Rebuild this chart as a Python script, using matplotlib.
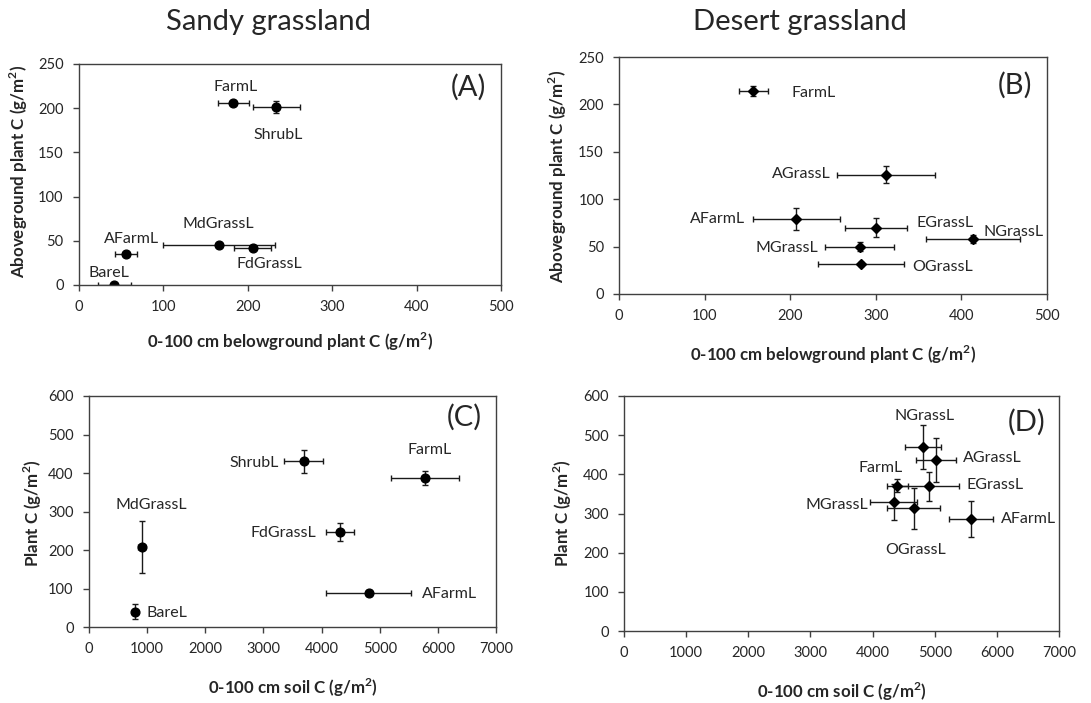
import matplotlib
matplotlib.use("Agg")
import matplotlib.pyplot as plt

plt.rcParams["font.family"] = ["Lato", "DejaVu Sans"]

# (A) Sandy grassland: belowground vs aboveground plant C
a_names = ["FarmL", "ShrubL", "AFarmL", "MdGrassL", "FdGrassL", "BareL"]
a_x = [183, 234, 56, 166, 206, 42]
a_xerr = [18, 28, 13, 66, 22, 20]
a_y = [206, 201, 35, 45, 42, 0]
a_yerr = [2, 7, 2, 2, 2, 1]
a_lab = [(185, 224, "center"), (236, 170, "center"), (62, 52, "center"),
         (165, 69, "center"), (225, 24, "center"), (35, 14, "center")]

# (B) Desert grassland: belowground vs aboveground plant C
b_names = ["FarmL", "AGrassL", "AFarmL", "EGrassL", "NGrassL", "MGrassL", "OGrassL"]
b_x = [157, 312, 207, 300, 414, 281, 283]
b_xerr = [17, 57, 51, 36, 55, 40, 50]
b_y = [214, 126, 79, 70, 58, 50, 32]
b_yerr = [5, 9, 12, 10, 4, 5, 2]
b_lab = [(201, 212, "left"), (247, 127, "right"), (147, 79, "right"),
         (347, 75, "left"), (426, 65, "left"), (233, 48, "right"), (342, 29, "left")]

# (C) Sandy grassland: soil C vs plant C
c_names = ["ShrubL", "FarmL", "FdGrassL", "AFarmL", "MdGrassL", "BareL"]
c_x = [3690, 5780, 4320, 4810, 910, 790]
c_xerr = [330, 590, 240, 730, 60, 40]
c_y = [431, 386, 246, 88, 208, 40]
c_yerr = [30, 18, 23, 8, 67, 20]
c_lab = [(3256, 425, "right"), (5850, 461, "center"), (3916, 243, "right"),
         (5725, 86, "left"), (1074, 316, "center"), (988, 36, "left")]

# (D) Desert grassland: soil C vs plant C
d_names = ["NGrassL", "AGrassL", "FarmL", "EGrassL", "MGrassL", "OGrassL", "AFarmL"]
d_x = [4810, 5020, 4400, 4900, 4340, 4660, 5585]
d_xerr = [285, 320, 170, 495, 378, 426, 350]
d_y = [470, 436, 371, 369, 329, 313, 286]
d_yerr = [57, 56, 16, 36, 46, 52, 46]
d_lab = [(4835, 549, "center"), (5450, 442, "left"), (4122, 415, "center"),
         (5515, 372, "left"), (3934, 321, "right"), (4685, 207, "center"),
         (6062, 286, "left")]

TXT = "#262626"
SPINE = "#404040"


def panel(rect, x, xerr, y, yerr, names, labs, marker, ms, xlim, ylim, xticks,
          yticks, xlabel, ylabel, tag, tagpos, lab_coords):
    ax = fig.add_axes(rect)
    ax.errorbar(x, y, xerr=xerr, yerr=yerr, fmt=marker, color="black", ms=ms,
                ecolor="#1a1a1a", elinewidth=1.0, capsize=2.5, capthick=1.0)
    for (lx, ly, ha), name in zip(labs, names):
        ax.text(lx, ly, name, ha=ha, va="center", fontsize=11.5, color=TXT)
    ax.text(tagpos[0], tagpos[1], tag, ha="center", va="center", fontsize=21,
            color=TXT)
    ax.set_xlim(xlim)
    ax.set_ylim(ylim)
    ax.set_xticks(xticks)
    ax.set_yticks(yticks)
    ax.tick_params(direction="out", length=4, width=1, colors=SPINE,
                   labelcolor=TXT, labelsize=10.5, pad=7)
    for s in ax.spines.values():
        s.set_color(SPINE)
        s.set_linewidth(1.0)
    ax.set_xlabel(xlabel, fontsize=12.2, fontweight="bold", color=TXT)
    ax.set_ylabel(ylabel, fontsize=12.2, fontweight="bold", color=TXT)
    ax.xaxis.label.set_va("center")
    ax.yaxis.label.set_va("center")
    ax.xaxis.set_label_coords(0.5, lab_coords[0])
    ax.yaxis.set_label_coords(lab_coords[1], lab_coords[2])
    return ax


fig = plt.figure(figsize=(10.91, 7.03), dpi=100)

below = "0-100 cm belowground plant C (g/m$^\\mathregular{2}$)"
above = "Aboveground plant C (g/m$^\\mathregular{2}$)"
soil = "0-100 cm soil C (g/m$^\\mathregular{2}$)"
plant = "Plant C (g/m$^\\mathregular{2}$)"

panel([0.0724, 0.5946, 0.3868, 0.3144], a_x, a_xerr, a_y, a_yerr, a_names,
      a_lab, "o", 6.3, (0, 500), (0, 250), range(0, 501, 100), range(0, 251, 50),
      below, above, "(A)", (462, 224), (-0.258, -0.142, 0.513))
panel([0.5674, 0.5818, 0.3923, 0.3371], b_x, b_xerr, b_y, b_yerr, b_names,
      b_lab, "D", 5, (0, 500), (0, 250), range(0, 501, 100), range(0, 251, 50),
      below, above, "(B)", (463, 220), (-0.257, -0.1425, 0.495))
panel([0.0816, 0.1081, 0.3731, 0.3286], c_x, c_xerr, c_y, c_yerr, c_names,
      c_lab, "o", 6.3, (0, 7000), (0, 600), range(0, 7001, 1000),
      range(0, 601, 100), soil, plant, "(C)", (6460, 545), (-0.264, -0.1376, 0.494))
panel([0.5720, 0.1024, 0.3987, 0.3343], d_x, d_xerr, d_y, d_yerr, d_names,
      d_lab, "D", 5, (0, 7000), (0, 600), range(0, 7001, 1000),
      range(0, 601, 100), soil, plant, "(D)", (6480, 534), (-0.26, -0.14, 0.50))

fig.text(268 / 1091, 1 - 22 / 703, "Sandy grassland", ha="center", va="center",
         fontsize=21, color=TXT)
fig.text(800 / 1091, 1 - 22 / 703, "Desert grassland", ha="center", va="center",
         fontsize=21, color=TXT)

fig.savefig("out.png", dpi=100)
